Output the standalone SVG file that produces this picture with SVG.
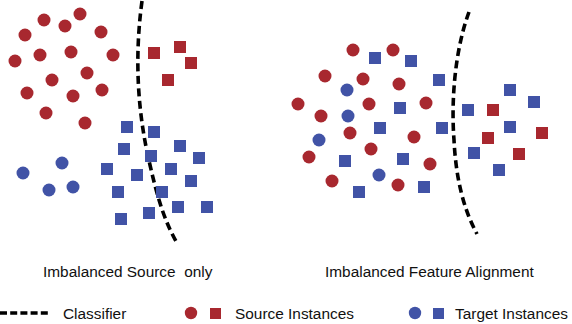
<svg xmlns="http://www.w3.org/2000/svg" width="572" height="324" viewBox="0 0 572 324">
<defs>
<style>
.rc{fill:#a8282f}
.bc{fill:#4153a6}
.rs{fill:#a8282f}
.bs{fill:#4153a6}
.cls{fill:none;stroke:#000;stroke-width:3.6;stroke-dasharray:8 4.5}
.t{font-family:"Liberation Sans",Arial,sans-serif;font-size:15.4px;fill:#111;white-space:pre}
</style>
<circle id="c" r="6.5"/>
<rect id="s" x="-6" y="-6" width="12" height="12"/>
</defs>
<rect width="572" height="324" fill="#fff"/>
<g id="connectors">
<path class="cls" d="M142,1 C134,60 138,115 150,165 C158,200 165,222 177,243"/>
<path class="cls" d="M469,12 C455,50 451,100 454,140 C456,180 464,210 477,234"/>
</g>
<g id="left-panel">
<g id="left-source-circles" class="rc">
<use href="#c" x="44" y="20"/><use href="#c" x="80" y="14"/><use href="#c" x="65" y="26"/>
<use href="#c" x="25" y="35"/><use href="#c" x="101" y="32"/><use href="#c" x="40" y="55"/>
<use href="#c" x="71" y="52"/><use href="#c" x="15" y="61"/><use href="#c" x="113" y="55"/>
<use href="#c" x="87" y="73"/><use href="#c" x="52" y="80"/><use href="#c" x="27" y="93"/>
<use href="#c" x="73" y="96"/><use href="#c" x="102" y="90"/><use href="#c" x="46" y="113"/>
<use href="#c" x="85" y="123"/>
</g>
<g id="left-source-squares" class="rs">
<use href="#s" x="154" y="53"/><use href="#s" x="180" y="47"/><use href="#s" x="191" y="63"/><use href="#s" x="168" y="80"/>
</g>
<g id="left-target-circles" class="bc">
<use href="#c" x="23" y="173"/><use href="#c" x="62" y="163"/><use href="#c" x="49" y="190"/><use href="#c" x="73" y="187"/>
</g>
<g id="left-target-squares" class="bs">
<use href="#s" x="127" y="127"/><use href="#s" x="154" y="132"/><use href="#s" x="124" y="149"/><use href="#s" x="180" y="146"/>
<use href="#s" x="151" y="156"/><use href="#s" x="199" y="158"/><use href="#s" x="107" y="169"/><use href="#s" x="171" y="169"/>
<use href="#s" x="137" y="175"/><use href="#s" x="191" y="181"/><use href="#s" x="118" y="192"/><use href="#s" x="162" y="192"/>
<use href="#s" x="178" y="207"/><use href="#s" x="207" y="207"/><use href="#s" x="149" y="213"/><use href="#s" x="121" y="219"/>
</g>
<text id="label-left" class="t" x="43" y="277">Imbalanced Source  only</text>
</g>
<g id="right-panel">
<g id="right-source-circles" class="rc">
<use href="#c" x="353" y="50"/><use href="#c" x="393" y="50"/><use href="#c" x="325" y="76"/><use href="#c" x="363" y="79"/>
<use href="#c" x="399" y="84"/><use href="#c" x="298" y="104"/><use href="#c" x="369" y="104"/><use href="#c" x="426" y="103"/>
<use href="#c" x="321" y="116"/><use href="#c" x="350" y="133"/><use href="#c" x="414" y="137"/><use href="#c" x="309" y="157"/>
<use href="#c" x="371" y="149"/><use href="#c" x="430" y="164"/><use href="#c" x="332" y="181"/><use href="#c" x="398" y="185"/>
</g>
<g id="right-target-circles" class="bc">
<use href="#c" x="347" y="90"/><use href="#c" x="348" y="116"/><use href="#c" x="319" y="140"/><use href="#c" x="379" y="175"/>
</g>
<g id="right-target-squares" class="bs">
<use href="#s" x="375" y="58"/><use href="#s" x="411" y="61"/><use href="#s" x="439" y="80"/><use href="#s" x="400" y="108"/>
<use href="#s" x="380" y="128"/><use href="#s" x="442" y="128"/><use href="#s" x="345" y="161"/><use href="#s" x="403" y="159"/>
<use href="#s" x="424" y="187"/><use href="#s" x="359" y="192"/>
<use href="#s" x="468" y="110"/><use href="#s" x="510" y="90"/><use href="#s" x="534" y="102"/><use href="#s" x="510" y="127"/>
<use href="#s" x="474" y="153"/><use href="#s" x="499" y="170"/>
</g>
<g id="right-source-squares" class="rs">
<use href="#s" x="493" y="110"/><use href="#s" x="488" y="138"/><use href="#s" x="542" y="133"/><use href="#s" x="519" y="154"/>
</g>
<text id="label-right" class="t" x="325" y="277">Imbalanced Feature Alignment</text>
</g>
<g id="legend">
<g id="legend-classifier">
<line class="cls" x1="0" y1="313" x2="50" y2="313" style="stroke-dasharray:7 3.2"/>
<text class="t" x="63" y="319">Classifier</text>
</g>
<g id="legend-source">
<circle class="rc" cx="191" cy="313" r="6.2"/>
<rect class="rs" x="210" y="308" width="11" height="11"/>
<text class="t" x="235" y="319">Source Instances</text>
</g>
<g id="legend-target">
<circle class="bc" cx="415" cy="313" r="6.2"/>
<rect class="bs" x="433" y="308" width="11" height="11"/>
<text class="t" x="455" y="319">Target Instances</text>
</g>
</g>
</svg>
